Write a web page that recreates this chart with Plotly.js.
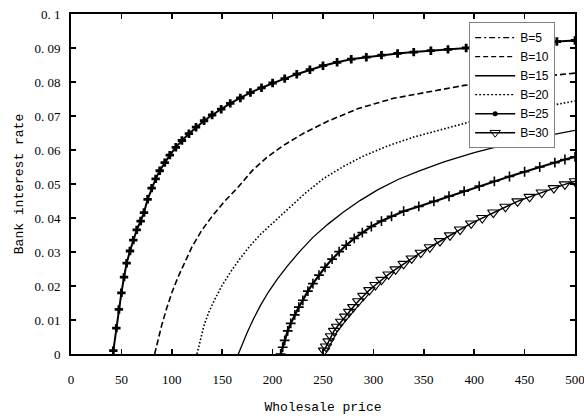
<!DOCTYPE html>
<html><head><meta charset="utf-8">
<script src="https://cdn.plot.ly/plotly-3.0.1.min.js"></script>
<style>html,body{margin:0;padding:0;background:#fff}#chart{width:584px;height:416px}</style>
</head><body><div id="chart"></div>
<script>
// Curve readings (wholesale price, bank interest rate), left to right
const price_b5 = [42,45,47.5,50,52.6,55.2,58.5,61.8,65.2,69.1,72.4,76,80,84,88,93,98,104,110,117,124,132,140,149,158,168,178,189,200,212,224,237,250,264,278,293,308,324,340,357,374,392,410,428,446,464,482,500];
const rate_b5  = [0.001,0.0076,0.0131,0.018,0.0226,0.0267,0.0303,0.0335,0.0365,0.0391,0.0416,0.0455,0.0488,0.0515,0.0539,0.0563,0.0585,0.0608,0.0628,0.0648,0.0667,0.0686,0.0703,0.072,0.0737,0.0753,0.0769,0.0783,0.0797,0.081,0.0823,0.0836,0.0848,0.0858,0.0867,0.0873,0.0879,0.0884,0.0888,0.0892,0.0896,0.09,0.0904,0.0908,0.0912,0.0916,0.0919,0.0922];

const price_b10 = [83,86,90,95,100,106,113,120,130,140,152,165,180,195,210,230,255,285,320,355,390,430,470,500];
const rate_b10  = [0,0.004,0.0085,0.0135,0.018,0.0225,0.0272,0.0315,0.0365,0.0405,0.0448,0.0488,0.054,0.058,0.0612,0.0648,0.0685,0.0722,0.0752,0.0772,0.079,0.0806,0.0818,0.0826];

const price_b15 = [125,128,132,137,143,150,158,167,177,188,200,215,232,250,270,290,315,340,370,400,430,465,500];
const rate_b15  = [0,0.004,0.0085,0.0125,0.0163,0.0202,0.024,0.0278,0.0316,0.0352,0.0385,0.0428,0.0472,0.0515,0.0551,0.0582,0.0613,0.0638,0.0663,0.0686,0.0706,0.0726,0.0744];

const price_b20 = [166,170,175,181,188,196,205,215,227,240,255,270,287,305,325,345,370,400,430,465,500];
const rate_b20  = [0,0.003,0.0065,0.0103,0.0143,0.0183,0.0222,0.026,0.0302,0.0343,0.0382,0.0417,0.0452,0.0484,0.0514,0.0538,0.0565,0.0592,0.0615,0.0638,0.0658];

const price_b25 = [208,210,212,215,218,222,226,230,235,240,246,252,259,266,273,281,289,298,308,318,330,345,360,375,390,405,420,435,450,465,480,490,500];
const rate_b25  = [0,0.002,0.004,0.0068,0.009,0.0115,0.0138,0.0158,0.0185,0.0207,0.0232,0.0255,0.0279,0.0301,0.032,0.034,0.0357,0.0375,0.0391,0.0405,0.042,0.0434,0.0449,0.0464,0.0479,0.0494,0.0508,0.0522,0.0536,0.055,0.0563,0.0572,0.058];

const price_b30 = [251,253,255.5,258,261,264,268,272,276,280,285,290,296,302,308,315,322,330,338,347,356,366,376,386,397,408,419,431,443,455,467,479,490,500];
const rate_b30  = [0.001,0.0022,0.0037,0.0052,0.0068,0.008,0.0095,0.011,0.0124,0.0138,0.0155,0.0171,0.0188,0.0203,0.0218,0.0234,0.0249,0.0265,0.0281,0.0298,0.0314,0.0332,0.0349,0.0366,0.0384,0.04,0.0416,0.0433,0.0449,0.0462,0.0475,0.0488,0.0499,0.0508];

const seriesNames = ["B=5","B=10","B=15","B=20","B=25","B=30"];
const xTickVals = [0,50,100,150,200,250,300,350,400,450,500];
const yTickVals = [0,0.01,0.02,0.03,0.04,0.05,0.06,0.07,0.08,0.09,0.1];
const yTickText = ["0","0. 01","0. 02","0. 03","0. 04","0. 05","0. 06","0. 07","0. 08","0. 09","0. 1"];

const K = "#000";
const curves = [
  {x: price_b5, y: rate_b5, mode: "lines+markers", line: {color: K, width: 2},
   marker: {symbol: "cross", size: 7, color: K}},
  {x: price_b10, y: rate_b10, mode: "lines", line: {color: K, width: 1.6, dash: "6px,3px"}},
  {x: price_b15, y: rate_b15, mode: "lines", line: {color: K, width: 1.6, dash: "1.6px,2px"}},
  {x: price_b20, y: rate_b20, mode: "lines", line: {color: K, width: 1.3}},
  {x: price_b25, y: rate_b25, mode: "lines+markers", line: {color: K, width: 2.2},
   marker: {symbol: "cross-thin-open", size: 7, color: K, line: {color: K, width: 1.6}}},
  {x: price_b30, y: rate_b30, mode: "lines+markers", line: {color: K, width: 1.5},
   marker: {symbol: "triangle-down-open", size: 10, color: K, line: {color: K, width: 1.1}}}
].map(t => Object.assign(t, {type: "scatter", showlegend: false, hoverinfo: "skip"}));

// legend-only entries (styles as shown in the legend box)
const legendStyles = [
  {mode: "lines", line: {color: K, width: 1.2, dash: "6px,3px,2px,3px"}},
  {mode: "lines", line: {color: K, width: 1.2, dash: "5px,3px"}},
  {mode: "lines", line: {color: K, width: 1.5}},
  {mode: "lines", line: {color: K, width: 1.2, dash: "2px,2px"}},
  {mode: "lines+markers", line: {color: K, width: 1.5}, marker: {symbol: "circle", size: 5, color: K}},
  {mode: "lines+markers", line: {color: K, width: 1.5}, marker: {symbol: "triangle-down-open", size: 9, color: K, line: {color: K, width: 1}}}
];
const legendTraces = seriesNames.map((n, i) => Object.assign({type: "scatter", x: [null], y: [null], name: n}, legendStyles[i]));

const axisCommon = {
  showline: true, linecolor: K, linewidth: 2, mirror: "allticks",
  ticks: "inside", ticklen: 5, tickwidth: 1.5, tickcolor: K,
  showgrid: false, zeroline: false,
  tickfont: {family: "Liberation Serif", size: 13, color: K}
};

const layout = {
  width: 584, height: 416,
  margin: {l: 71, r: 9, t: 14, b: 62},
  paper_bgcolor: "#fff", plot_bgcolor: "#fff",
  xaxis: Object.assign({}, axisCommon, {
    range: [0, 500], tickmode: "array", tickvals: xTickVals,
    ticklabelstandoff: 12, ticklabeloverflow: "allow",
    title: {text: "Wholesale price", font: {family: "Liberation Mono", size: 13, color: K}, standoff: 16}
  }),
  yaxis: Object.assign({}, axisCommon, {
    range: [0, 0.1], tickmode: "array", tickvals: yTickVals, ticktext: yTickText,
    ticklabelstandoff: 6,
    title: {text: "Bank interest rate", font: {family: "Liberation Mono", size: 13, color: K}, standoff: 8}
  }),
  legend: {
    x: 0.79, y: 0.976, xanchor: "left", yanchor: "top",
    bgcolor: "#fff", bordercolor: "#808080", borderwidth: 1,
    font: {family: "Liberation Sans", size: 12, color: K},
    tracegroupgap: 0, itemwidth: 40
  },
  showlegend: true
};

Plotly.newPlot("chart", curves.concat(legendTraces), layout, {staticPlot: true, displayModeBar: false});
</script>
</body></html>
